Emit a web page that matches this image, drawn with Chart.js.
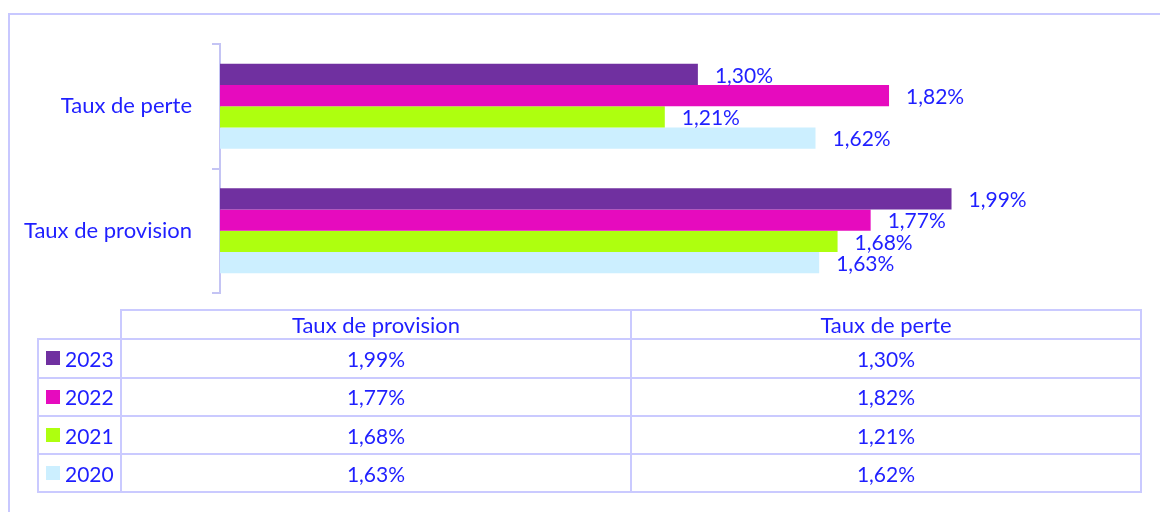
<!DOCTYPE html>
<html><head><meta charset="utf-8">
<script src="https://cdn.jsdelivr.net/npm/chart.js@4.4.1/dist/chart.umd.min.js"></script>
<style>
html,body{margin:0;padding:0;background:#fff;width:1160px;height:512px;overflow:hidden;}
#wrap{position:relative;width:1160px;height:512px;overflow:hidden;}
#frame{position:absolute;left:8px;top:13px;width:1300px;height:700px;border:2px solid #c8c8ff;box-sizing:border-box;}
canvas{position:absolute;left:0;top:0;}
.cell{position:absolute;box-sizing:border-box;border:2px solid #cacaff;display:flex;align-items:center;justify-content:center;font:21px Lato, sans-serif;color:#1f1fff;white-space:nowrap;}
.hdr{font-size:22px;}
.leg{justify-content:flex-start;padding-left:7px;}
.sq{display:inline-block;width:14px;height:14px;margin-right:5px;}
</style></head><body>
<div id="wrap"><div id="frame"></div><canvas id="c" width="1160" height="512"></canvas><div id="table"></div></div>
<script>
// ---- data ----
const categories = ['Taux de provision', 'Taux de perte'];
const years = ['2023', '2022', '2021', '2020'];
const values2023 = [1.99, 1.30];
const values2022 = [1.77, 1.82];
const values2021 = [1.68, 1.21];
const values2020 = [1.63, 1.62];
const seriesValues = [values2023, values2022, values2021, values2020];
const seriesColors = ['#7030A0', '#E60BBE', '#AEFF0F', '#CCEFFF'];

const TEXT = '#1f1fff';
const AXIS = '#c4c4f4';
const FONT = 'Lato, sans-serif';
const fmt = v => v.toFixed(2).replace('.', ',') + '%';

const labelPlugin = {
  id: 'valLabels',
  afterDatasetsDraw(chart) {
    const ctx = chart.ctx;
    ctx.save();
    ctx.font = '21px ' + FONT;
    ctx.fillStyle = TEXT;
    ctx.textAlign = 'left';
    ctx.textBaseline = 'middle';
    chart.data.datasets.forEach((ds, i) => {
      const meta = chart.getDatasetMeta(i);
      meta.data.forEach((el, j) => {
        ctx.fillText(fmt(ds.data[j]), el.x + 17, el.y + 1.5);
      });
    });
    ctx.restore();
  }
};

new Chart(document.getElementById('c'), {
  type: 'bar',
  data: {
    labels: categories,
    datasets: years.map((y, i) => ({
      label: y,
      data: seriesValues[i],
      backgroundColor: seriesColors[i],
      borderWidth: 0,
      categoryPercentage: 0.683,
      barPercentage: 1
    }))
  },
  options: {
    indexAxis: 'y',
    responsive: false,
    animation: false,
    devicePixelRatio: 1,
    layout: { padding: { left: 0, right: 21, top: 44, bottom: 219 } },
    plugins: { legend: { display: false }, tooltip: { enabled: false } },
    scales: {
      x: { display: false, min: 0, max: 2.5 },
      y: {
        reverse: true,
        afterFit(scale) { scale.width = 220; },
        grid: { offset: true, drawOnChartArea: false, drawTicks: true, tickLength: 8, color: AXIS, lineWidth: 2 },
        border: { display: true, color: AXIS, width: 2 },
        ticks: { color: TEXT, font: { family: FONT, size: 22 }, padding: 20 }
      }
    }
  },
  plugins: [labelPlugin]
});

// ---- data table ----
const xs = [38, 121, 631, 1141];
const ys = [310, 339, 377.5, 416, 454, 492];
const tbl = document.getElementById('table');
function cell(c, r, html, cls) {
  const d = document.createElement('div');
  d.className = 'cell' + (cls ? ' ' + cls : '');
  d.style.left = (xs[c] - 1) + 'px';
  d.style.top = (ys[r] - 1) + 'px';
  d.style.width = (xs[c + 1] - xs[c] + 2) + 'px';
  d.style.height = (ys[r + 1] - ys[r] + 2) + 'px';
  d.innerHTML = html;
  tbl.appendChild(d);
}
categories.forEach((cat, j) => cell(j + 1, 0, cat, 'hdr'));
years.forEach((y, i) => {
  cell(0, i + 1, '<span class="sq" style="background:' + seriesColors[i] + '"></span>' + y, 'leg');
  categories.forEach((cat, j) => cell(j + 1, i + 1, fmt(seriesValues[i][j])));
});
</script>
</body></html>
